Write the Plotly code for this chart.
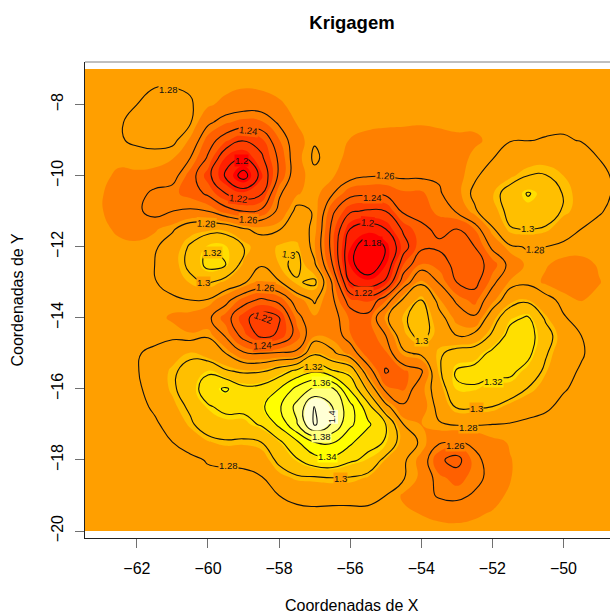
import plotly.graph_objects as go

x_cells = [-63.5 + 0.5 * i for i in range(31)]
y_cells = [-7 - 0.5 * i for i in range(27)]

# kriged values, thousandths, north to south, west to east
z_milli = [
[1276,1276,1277,1277,1277,1277,1277,1277,1277,1276,1276,1277,1277,1277,1277,1277,1277,1277,1277,1277,1277,1277,1277,1277,1277,1277,1277,1277,1277,1277,1276],
[1277,1277,1277,1278,1279.8,1279.9,1279,1277,1276,1274,1275,1276,1277,1277,1277,1277,1277,1277,1277,1277,1277,1277,1277,1277,1277,1277,1277,1277,1277,1277,1276],
[1277,1277,1278,1280,1283,1283,1281,1275,1270,1267,1267,1272,1276,1277,1277,1277,1277,1277,1277,1277,1277,1277,1277,1277,1277,1277,1277,1277,1277,1277,1276],
[1276,1277,1279,1283,1285,1285,1281,1263,1253,1248,1250,1262,1274,1278,1277,1276,1276,1276,1275,1274,1275,1275,1275,1276,1277,1277,1278,1278,1277,1277,1276],
[1275,1277,1279,1282,1284,1283,1272,1247,1232,1221,1227,1251,1269,1279,1277,1273,1270,1267,1268,1270,1270,1272,1272,1275,1279.5,1279.7,1280.5,1281,1279.5,1277,1276],
[1275,1275,1275,1276,1276,1274,1260,1238,1207,1198,1217,1243,1270,1282,1275,1272,1268,1265,1265,1267,1268,1270,1275,1279.5,1285,1289,1291,1290,1285,1279.8,1276],
[1275,1275,1272,1272,1271,1266,1247,1225,1197,1172,1206,1243,1270,1277,1275,1265,1261,1261,1262,1262,1262,1270,1278,1286,1293,1300,1300.5,1295,1291,1283,1278],
[1275,1274,1269,1266,1256,1254,1248,1237,1220,1211,1218,1258,1272,1278.5,1261,1245,1243,1243,1250,1250,1258,1270,1283,1294,1307,1321.5,1312,1299,1291,1284,1278],
[1275,1274,1268,1263,1254,1260,1262,1260,1247,1240,1243,1264,1284,1279,1243,1222,1218,1220,1243,1245,1255,1261,1278,1290,1305,1312,1310,1298,1290,1281,1277],
[1275,1275,1272,1270,1272,1278,1290,1292,1292,1281,1277,1279,1287,1277,1235,1200,1192,1200,1223,1237,1243,1240,1252,1278,1299,1301,1298,1287,1280,1277,1276],
[1275,1276,1275,1275,1278,1288,1302,1319,1318,1301,1286,1297,1298,1274,1234,1187,1168,1181,1213,1237,1237.5,1233,1240,1263,1278,1281,1280,1277,1276,1276,1276],
[1275,1276,1276,1276,1280,1290,1304,1326,1320,1293,1281,1295,1305,1282,1240,1185,1166,1186,1230,1252,1248,1235,1232,1247,1264,1276,1274,1271,1271,1274,1276],
[1275,1276,1276,1276,1279,1287,1296,1302,1292,1282,1272,1278,1298,1304,1258,1200,1190,1203,1250,1277,1259,1240,1235,1256,1275,1277,1272,1268,1268,1273,1276],
[1275,1276,1276,1276,1276,1277,1280,1279,1265,1247,1237,1245,1268,1282,1263,1232,1227,1250,1283,1300,1275,1257,1248,1270,1290,1296,1284,1277,1273,1275,1276],
[1275,1276,1276,1276,1276,1272,1270,1263,1247,1224,1212,1219,1255,1272,1266,1250,1245,1277,1297,1310,1285,1270,1262,1290,1315,1322,1297,1281,1276,1276,1276],
[1275,1276,1276,1276,1276,1277,1274,1279,1258,1234,1216,1222,1247,1272,1270,1252,1245,1260,1292,1306,1290,1280,1284,1303,1327,1328,1308,1288,1280,1276,1276],
[1275,1276,1276,1279,1283,1290,1296,1287,1280,1262,1260,1262,1263,1297,1283,1270,1245,1250,1277,1283,1297,1308,1310,1325,1333,1325,1302,1285,1281,1276,1276],
[1275,1276,1277,1279,1288,1297,1307,1317,1302,1297,1298,1310,1325,1337,1322,1313,1268,1238,1250,1257,1297,1322,1326,1325,1324,1313,1296,1283,1279,1276,1276],
[1275,1276,1276,1277,1287,1297,1310,1331,1343,1325,1327,1340,1366,1384,1384,1337,1295,1255,1250,1270,1288,1318,1318,1311,1312,1299,1290,1281,1277,1276,1276],
[1275,1276,1276,1276,1282,1292,1303,1318,1325,1325,1336,1357,1386,1421,1400,1367,1328,1285,1262,1268,1284,1302,1302,1300,1291,1286,1282,1277,1276,1276,1276],
[1275,1275,1276,1276,1278,1285,1297,1310,1313,1313,1322,1344,1378,1423,1397,1364,1344,1320,1280,1273,1279,1281,1281,1280,1279,1277,1276,1276,1276,1276,1276],
[1275,1275,1276,1276,1276,1280,1286,1294,1298,1297,1300,1316,1337,1360,1362,1344,1325,1319,1288,1278,1262,1258,1263,1271,1274,1276,1276,1276,1276,1276,1276],
[1275,1275,1276,1276,1276,1276,1277,1281,1283,1284,1288,1304,1318,1332,1335,1323,1316,1294,1282,1270,1243,1234,1256,1266,1273,1276,1276,1276,1276,1276,1276],
[1275,1275,1276,1276,1276,1276,1276,1277,1276,1276,1279,1291,1297,1298,1300,1299,1294,1290,1281,1271,1254,1248,1255,1265,1273,1276,1276,1276,1276,1276,1276],
[1275,1275,1276,1276,1276,1276,1276,1276,1276,1276,1276,1280,1283,1285,1284,1284,1284,1280,1272,1267,1258,1256,1262,1270,1275,1276,1276,1276,1276,1276,1276],
[1275,1275,1276,1276,1276,1276,1276,1276,1276,1276,1276,1276,1277,1277,1277,1277,1277,1276,1275,1273,1271,1270,1272,1274,1275,1276,1276,1276,1276,1276,1276],
[1275,1275,1276,1276,1276,1276,1276,1276,1276,1276,1276,1276,1276,1276,1276,1276,1276,1276,1276,1276,1276,1276,1276,1276,1276,1276,1276,1276,1276,1276,1276],
]
z_values = [[v / 1000 for v in row] for row in z_milli]

band_colors = ["#FF0000", "#FF2000", "#FF4000", "#FF6000", "#FF8000", "#FF9F00",
               "#FFBF00", "#FFDF00", "#FFFF00", "#FFFF2A", "#FFFF80", "#FFFFD5"]
z_low, z_high = 1.165, 1.425

x_ticks = [-62, -60, -58, -56, -54, -52, -50]
y_ticks = [-20, -18, -16, -14, -12, -10, -8]

label_text = ["1.28","1.24","1.2","1.22","1.26","1.28","1.32","1.3","1.3","1.26","1.22","1.24",
              "1.26","1.24","1.2","1.18","1.22","1.3","1.28","1.3","1.32","1.3","1.28","1.26",
              "1.32","1.36","1.4","1.38","1.34","1.3","1.28"]
label_x = [-61.12,-58.87,-59.07,-59.15,-58.87,-60.05,-59.88,-60.13,-57.74,-58.39,-58.45,-58.48,
           -55.02,-55.38,-55.52,-55.38,-55.63,-51.02,-50.8,-54.0,-51.98,-52.45,-52.68,-53.05,
           -57.04,-56.81,-56.5,-56.81,-56.65,-56.28,-59.43]
label_y = [-7.57,-8.72,-9.56,-10.63,-11.22,-11.34,-12.15,-13.0,-12.21,-13.16,-13.98,-14.77,
           -9.99,-10.6,-11.31,-11.87,-13.3,-11.5,-12.07,-14.65,-15.78,-16.54,-17.1,-17.58,
           -15.38,-15.83,-16.79,-17.35,-17.89,-18.53,-18.17]
label_angle = [0,6,0,6,3,3,0,0,8,3,20,-3,
               4,0,5,0,0,0,3,0,0,0,0,0,
               0,0,-90,0,0,0,0]
label_bg = ["#FF9F00","#FF6000","#FF0000","#FF4000","#FF8000","#FF9F00","#FFBF00","#FF9F00","#FFBF00","#FF8000","#FF4000","#FF6000",
            "#FF8000","#FF6000","#FF2000","#FF0000","#FF4000","#FFBF00","#FF9F00","#FFBF00","#FFDF00","#FF9F00","#FF9F00","#FF8000",
            "#FFBF00","#FFFF2A","#FFFFD5","#FFFF80","#FFFF00","#FF9F00","#FF9F00"]

fig = go.Figure()
fig.add_trace(go.Contour(
    x=x_cells, y=y_cells, z=z_values, showscale=False, hoverinfo="skip",
    autocontour=False, contours=dict(start=z_low, end=z_high, size=(z_high - z_low) / 12, coloring="fill", showlines=False),
    colorscale=[[i / 11, c] for i, c in enumerate(band_colors)],
    line=dict(width=0, smoothing=1.3), zmin=z_low + (z_high - z_low) / 24, zmax=z_high - (z_high - z_low) / 24,
))
fig.add_trace(go.Contour(
    x=x_cells, y=y_cells, z=z_values, showscale=False, hoverinfo="skip",
    autocontour=False, contours=dict(start=1.18, end=1.42, size=0.02, coloring="none", showlines=True),
    line=dict(color="#111111", width=1.1, smoothing=1.3),
))
for t, lx, ly, a, b in zip(label_text, label_x, label_y, label_angle, label_bg):
    fig.add_annotation(x=lx, y=ly, text=t, showarrow=False, textangle=a, bgcolor=b,
                       font=dict(family="Liberation Sans", size=9.5, color="#111111"),
                       borderpad=0)
fig.add_annotation(xref="paper", yref="paper", x=(352 - 85) / 525, y=-(605 - 538) / 476,
                   yanchor="middle", xanchor="center", showarrow=False, text="Coordenadas de X",
                   font=dict(family="Liberation Sans", size=16, color="#000000"))

fig.add_shape(type="line", xref="paper", yref="paper", x0=0, x1=1, y0=1, y1=1,
              line=dict(color="#808080", width=1))

common = dict(showgrid=False, zeroline=False, ticks="outside", ticklen=9, tickwidth=1,
              tickcolor="#707070", showline=True, linecolor="#222222", linewidth=1,
              tickfont=dict(family="Liberation Sans", size=16, color="#000000"))
fig.update_xaxes(range=[-63.46, -48.69], tickvals=x_ticks, automargin=False, ticklabelstandoff=7, **common)
fig.update_yaxes(range=[-20.197, -6.80], tickvals=y_ticks, tickangle=-90, automargin=False, ticklabelstandoff=6,
                 title=dict(text="Coordenadas de Y", standoff=20,
                            font=dict(family="Liberation Sans", size=16, color="#000000")), **common)
fig.update_layout(
    width=610, height=614, margin=dict(l=85, r=0, t=62, b=76),
    paper_bgcolor="white", plot_bgcolor="white", showlegend=False,
    title=dict(text="<b>Krigagem</b>", x=352 / 610, xanchor="center", y=1 - 23 / 614, yanchor="middle",
               font=dict(family="Liberation Sans", size=18.5, color="#000000")),
)
fig.write_html("out.html", config=dict(displayModeBar=False),
               post_script="document.body.style.margin='0';document.body.style.overflow='hidden';")
